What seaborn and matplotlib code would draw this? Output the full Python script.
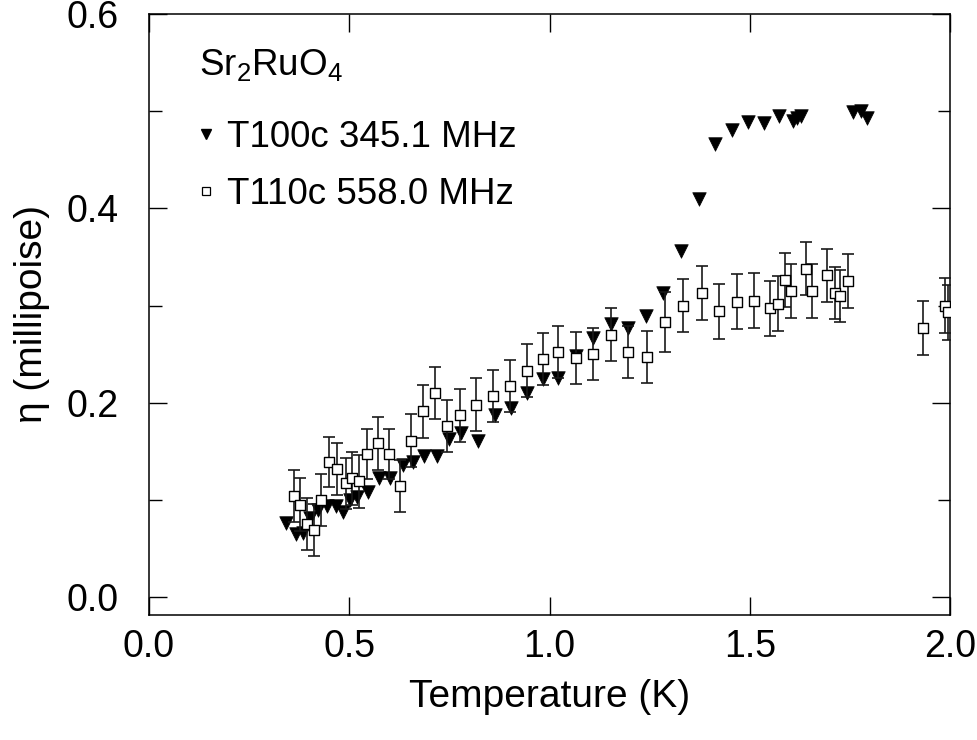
import numpy as np
import pandas as pd
import matplotlib
matplotlib.use("Agg")
import matplotlib.pyplot as plt
from matplotlib.lines import Line2D
from matplotlib.ticker import MultipleLocator
import seaborn as sns

# ---- data: T100c 345.1 MHz (filled down triangles) ----
t100_T = [0.343, 0.366, 0.385, 0.402, 0.422, 0.444, 0.466, 0.484, 0.501, 0.519,
          0.547, 0.574, 0.602, 0.633, 0.659, 0.687, 0.719, 0.749, 0.779, 0.821,
          0.864, 0.905, 0.945, 0.984, 1.022, 1.067, 1.109, 1.154, 1.196, 1.241,
          1.283, 1.328, 1.373, 1.413, 1.456, 1.495, 1.535, 1.573, 1.608, 1.618,
          1.628, 1.758, 1.778, 1.793]
t100_eta = [0.076, 0.065, 0.066, 0.081, 0.090, 0.094, 0.094, 0.088, 0.100, 0.103,
            0.108, 0.122, 0.123, 0.136, 0.139, 0.145, 0.145, 0.163, 0.169, 0.161,
            0.187, 0.195, 0.210, 0.224, 0.225, 0.248, 0.267, 0.281, 0.277, 0.289,
            0.313, 0.356, 0.410, 0.466, 0.481, 0.489, 0.488, 0.495, 0.490, 0.493,
            0.495, 0.499, 0.500, 0.493]

# ---- data: T110c 558.0 MHz (open squares with error bars) ----
t110_T = [0.362, 0.377, 0.395, 0.412, 0.429, 0.449, 0.469, 0.492, 0.508, 0.524,
          0.544, 0.571, 0.600, 0.627, 0.655, 0.684, 0.714, 0.745, 0.777, 0.816,
          0.859, 0.901, 0.944, 0.984, 1.022, 1.066, 1.109, 1.154, 1.196, 1.243,
          1.288, 1.333, 1.381, 1.423, 1.468, 1.511, 1.551, 1.571, 1.588, 1.603,
          1.640, 1.655, 1.693, 1.713, 1.725, 1.745, 1.933, 1.988, 1.995]
t110_eta = [0.104, 0.095, 0.075, 0.069, 0.100, 0.139, 0.132, 0.117, 0.122, 0.119,
            0.147, 0.158, 0.147, 0.114, 0.161, 0.191, 0.210, 0.176, 0.187, 0.198,
            0.207, 0.217, 0.233, 0.245, 0.252, 0.246, 0.250, 0.270, 0.252, 0.247,
            0.283, 0.300, 0.313, 0.294, 0.304, 0.305, 0.297, 0.302, 0.326, 0.315,
            0.338, 0.315, 0.331, 0.313, 0.310, 0.325, 0.277, 0.300, 0.293]
t110_err = [0.027, 0.027, 0.027, 0.027, 0.027, 0.026, 0.027, 0.026, 0.027, 0.027,
            0.026, 0.027, 0.026, 0.027, 0.027, 0.027, 0.027, 0.027, 0.027, 0.027,
            0.027, 0.027, 0.027, 0.027, 0.027, 0.027, 0.027, 0.027, 0.027, 0.027,
            0.031, 0.027, 0.028, 0.028, 0.028, 0.028, 0.028, 0.028, 0.028, 0.028,
            0.027, 0.028, 0.027, 0.027, 0.027, 0.028, 0.028, 0.028, 0.028]

label_a = "T100c 345.1 MHz"
label_b = "T110c 558.0 MHz"
sample = r"Sr$\mathregular{_2}$RuO$\mathregular{_4}$"
x_ticks = [0.0, 0.5, 1.0, 1.5, 2.0]
y_ticks = [0.0, 0.2, 0.4, 0.6]

df_a = pd.DataFrame({"T": t100_T, "eta": t100_eta})
df_b = pd.DataFrame({"T": t110_T, "eta": t110_eta, "err": t110_err})

sns.set_theme(style="ticks")
plt.rcParams["font.family"] = ["Liberation Sans", "DejaVu Sans"]
plt.rcParams["mathtext.fontset"] = "custom"
plt.rcParams["mathtext.rm"] = "Liberation Sans"
plt.rcParams["text.color"] = "black"
plt.rcParams["axes.labelcolor"] = "black"
plt.rcParams["xtick.color"] = "black"
plt.rcParams["ytick.color"] = "black"

fig = plt.figure(figsize=(9.77, 7.40), dpi=100)
ax = fig.add_axes([149 / 977, 1 - 615 / 740, (950 - 149) / 977, (615 - 14) / 740])

FS_TICK = 27
FS_LAB = 28
FS_LEG = 26.5

sns.scatterplot(data=df_a, x="T", y="eta", ax=ax, marker="v", s=95,
                color="black", edgecolor="black", linewidth=0.5, zorder=3,
                legend=False)
ax.errorbar(df_b["T"], df_b["eta"], yerr=df_b["err"], fmt="none",
            ecolor="#1a1a1a", elinewidth=1.2, capsize=4, capthick=1.2, zorder=4)
sns.scatterplot(data=df_b, x="T", y="eta", ax=ax, marker="s", s=45,
                color="white", edgecolor="black", linewidth=1.0, zorder=5,
                legend=False)

ax.set_xlim(0, 2.0)
ax.set_ylim(-0.0185, 0.6)
ax.set_xticks(x_ticks)
ax.set_yticks(y_ticks)
ax.xaxis.set_major_formatter(matplotlib.ticker.FormatStrFormatter("%.1f"))
ax.yaxis.set_major_formatter(matplotlib.ticker.FormatStrFormatter("%.1f"))
ax.yaxis.set_minor_locator(MultipleLocator(0.1))

for sp in ax.spines.values():
    sp.set_linewidth(1.1)
    sp.set_color("black")
    sp.set_visible(True)

ax.tick_params(axis="both", which="both", direction="in", top=True, right=True,
               color="black", width=1.0, labelsize=FS_TICK, labelcolor="black")
ax.tick_params(axis="both", which="major", length=13)
ax.tick_params(axis="y", which="minor", length=9)
ax.tick_params(axis="x", which="major", pad=10)
ax.tick_params(axis="y", which="major", pad=22)

ax.set_xlabel("Temperature (K)", fontsize=FS_LAB, labelpad=10, color="black")
ax.set_ylabel("η (millipoise)", fontsize=FS_LAB, labelpad=12, color="black")

ax.text(0.062, 0.898, sample, transform=ax.transAxes, fontsize=FS_LEG,
        ha="left", va="baseline", color="black")

handles = [
    Line2D([], [], linestyle="none", marker="v", markersize=7,
           markerfacecolor="black", markeredgecolor="black"),
    Line2D([], [], linestyle="none", marker="s", markersize=5.5,
           markerfacecolor="white", markeredgecolor="black", markeredgewidth=0.9),
]
leg = ax.legend(handles, [label_a, label_b], loc="upper left",
                bbox_to_anchor=(0.060, 0.823), frameon=False, fontsize=FS_LEG,
                handlelength=0.5, handletextpad=0.3, labelspacing=0.58,
                borderaxespad=0, borderpad=0)
for t in leg.get_texts():
    t.set_color("black")

fig.savefig("out.png", dpi=100, facecolor="white")
